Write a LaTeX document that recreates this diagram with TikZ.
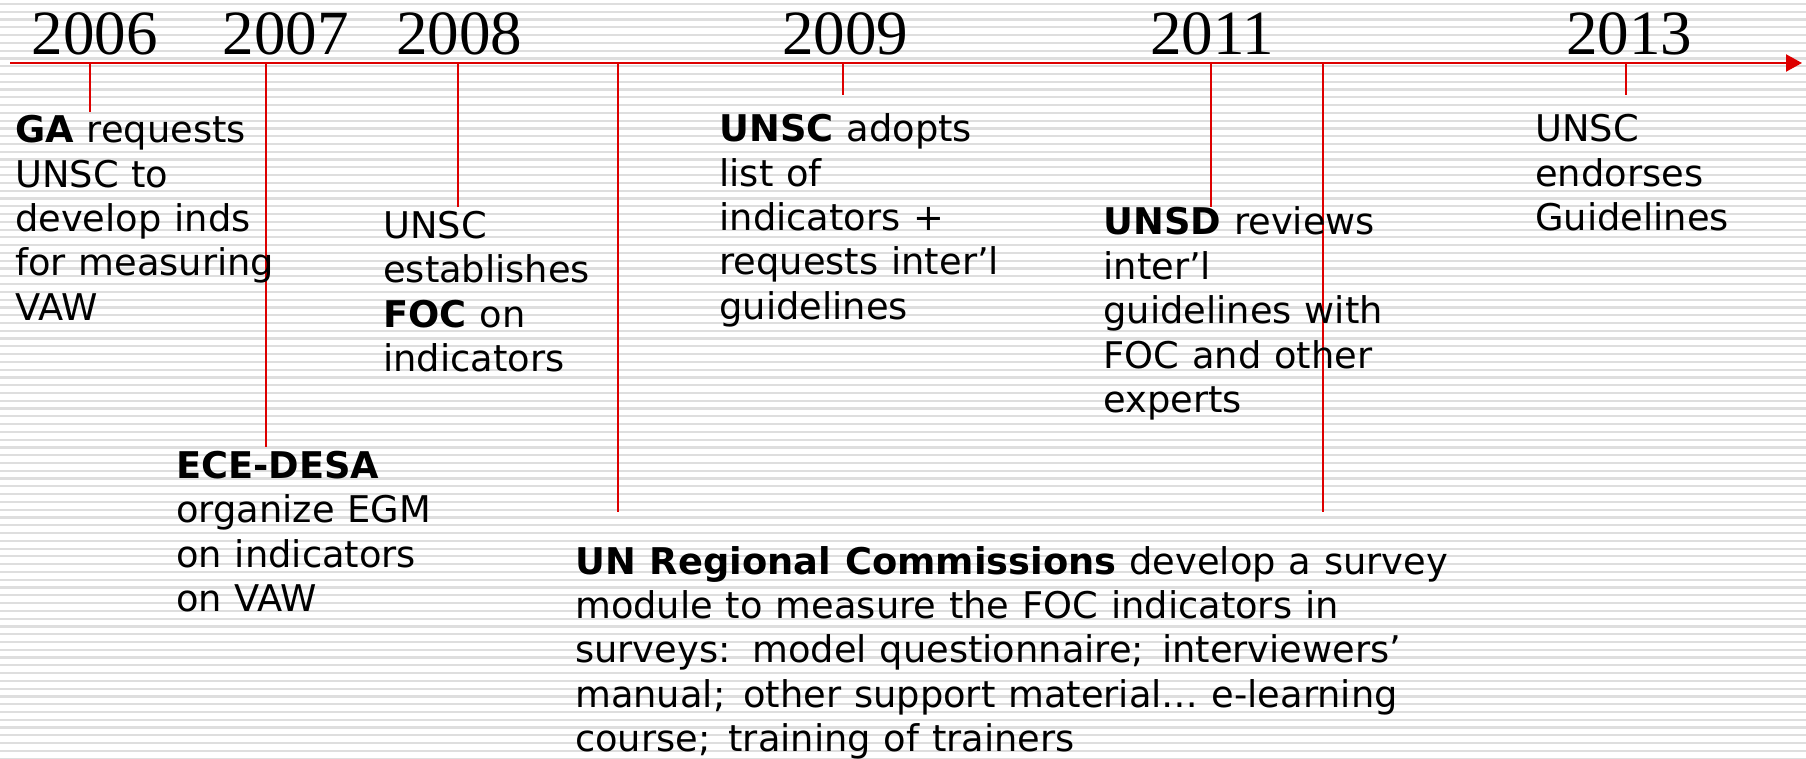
\documentclass[tikz,border=0pt]{standalone}
\usepackage{fontspec}
\setmainfont[WordSpace=1.1]{DejaVu Sans}
\newfontfamily\yearfont{Liberation Serif}
\usetikzlibrary{arrows.meta}
\definecolor{axisred}{RGB}{221,0,0}
\definecolor{stripegray}{RGB}{222,222,222}
\newcommand{\pspc}{\hspace{5pt}}
\begin{document}
\begin{tikzpicture}[x=1pt,y=-1pt,
  txt/.style={inner sep=0pt,anchor=base west,font=\fontsize{36.8}{44.4}\selectfont},
  yr/.style={inner sep=0pt,anchor=base,font=\yearfont\fontsize{63}{63}\selectfont},
  tickline/.style={draw=axisred,line width=2pt},
  axisline/.style={draw=axisred,line width=2.2pt,-{Triangle[length=16pt,width=17pt]}}]
\useasboundingbox (0,0) rectangle (1806,759);
\fill[white] (0,0) rectangle (1806,759);
% striped background
\foreach \k in {0,...,97}{
  \pgfmathsetmacro{\yy}{4+7.78*\k}
  \draw[stripegray,line width=2.2pt] (0,\yy) -- (1806,\yy);
}
% years
\node[yr] (y2006) at (94.5,55) {2006};
\node[yr] (y2007) at (285.5,55) {2007};
\node[yr] (y2008) at (459,55) {2008};
\node[yr] (y2009) at (845,55) {2009};
\node[yr] (y2011) at (1212,55) {2011};
\node[yr] (y2013) at (1629,55) {2013};
% axis
\coordinate (axstart) at (10,63);
\coordinate (axend) at (1802,63);
\draw[axisline] (axstart) -- (axend);
% tick coordinates
\coordinate (t1top) at (90,63);     \coordinate (t1bot) at (90,111.7);
\coordinate (t2top) at (266,63);    \coordinate (t2bot) at (266,447);
\coordinate (t3top) at (458.3,63);  \coordinate (t3bot) at (458.3,206.7);
\coordinate (t4top) at (618.3,63);  \coordinate (t4bot) at (618.3,511.7);
\coordinate (t5top) at (842.7,63);  \coordinate (t5bot) at (842.7,95);
\coordinate (t6top) at (1210.7,63); \coordinate (t6bot) at (1210.7,207.3);
\coordinate (t7top) at (1322.5,63); \coordinate (t7bot) at (1322.5,511.7);
\coordinate (t8top) at (1626,63);   \coordinate (t8bot) at (1626,95);
\foreach \i in {1,...,8}{ \draw[tickline] (t\i top) -- (t\i bot); }
% text blocks
\node[txt] (ga) at (15,142.7) {\vtop{\hbox{\textbf{GA} requests}\hbox{UNSC to}\hbox{develop inds}\hbox{for measuring}\hbox{VAW}}};
\node[txt] (ece) at (176,478.3) {\vtop{\hbox{\textbf{ECE-DESA}}\hbox{organize EGM}\hbox{on indicators}\hbox{on VAW}}};
\node[txt] (foc) at (383,238.3) {\vtop{\hbox{UNSC}\hbox{establishes}\hbox{\textbf{FOC} on}\hbox{indicators}}};
\node[txt] (adopt) at (719.3,141.7) {\vtop{\hbox{\textbf{UNSC} adopts}\hbox{list of}\hbox{indicators +}\hbox{requests inter’l}\hbox{guidelines}}};
\node[txt] (unsd) at (1103.3,235) {\vtop{\hbox{\textbf{UNSD} reviews}\hbox{inter’l}\hbox{guidelines with}\hbox{FOC and other}\hbox{experts}}};
\node[txt] (endorse) at (1535,141.7) {\vtop{\hbox{UNSC}\hbox{endorses}\hbox{Guidelines}}};
\node[txt] (unrc) at (575,574) {\vtop{\hbox{\textbf{UN Regional Commissions} develop a survey}\hbox{module to measure the FOC indicators in}\hbox{surveys:\pspc{} model questionnaire;\pspc{} interviewers’}\hbox{manual;\pspc{} other support material… e-learning}\hbox{course;\pspc{} training of trainers}}};
\end{tikzpicture}
\end{document}
